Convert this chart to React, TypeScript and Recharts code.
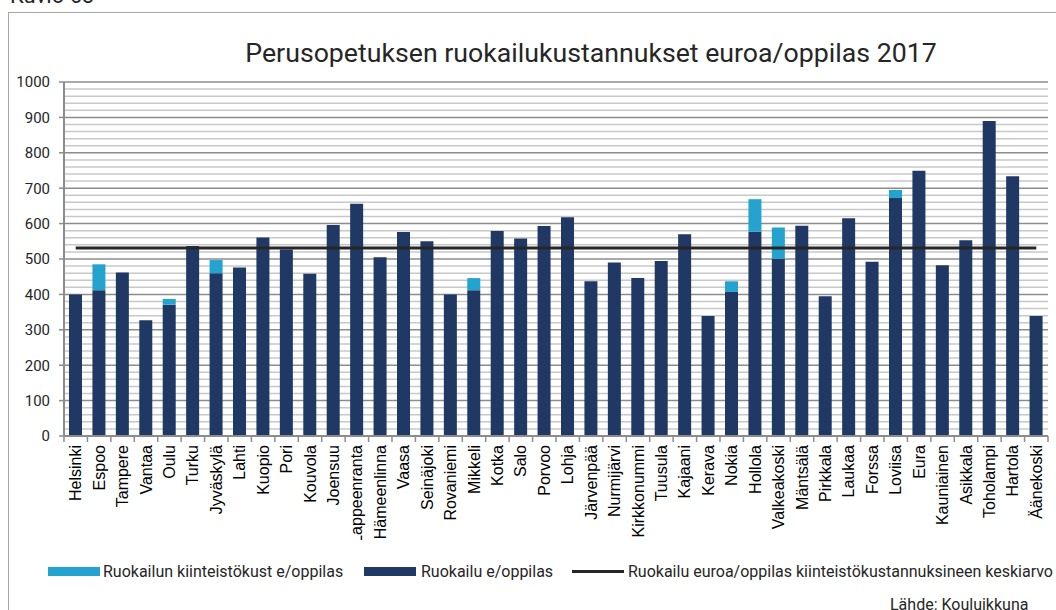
import React from "react";
import {
	ComposedChart,
	Bar,
	Line,
	XAxis,
	YAxis,
	CartesianGrid,
} from "recharts";

const cities = [
	"Helsinki", "Espoo", "Tampere", "Vantaa", "Oulu", "Turku", "Jyväskylä", "Lahti",
	"Kuopio", "Pori", "Kouvola", "Joensuu", "Lappeenranta", "Hämeenlinna", "Vaasa",
	"Seinäjoki", "Rovaniemi", "Mikkeli", "Kotka", "Salo", "Porvoo", "Lohja",
	"Järvenpää", "Nurmijärvi", "Kirkkonummi", "Tuusula", "Kajaani", "Kerava", "Nokia",
	"Hollola", "Valkeakoski", "Mäntsälä", "Pirkkala", "Laukaa", "Forssa", "Loviisa",
	"Eura", "Kauniainen", "Asikkala", "Toholampi", "Hartola", "Äänekoski",
];

// Ruokailu e/oppilas
const ruokailu = [
	400, 412, 462, 327, 371, 537, 460, 476,
	561, 527, 458, 596, 656, 505, 576,
	550, 400, 412, 579, 558, 593, 618,
	437, 490, 446, 494, 570, 339, 407,
	577, 501, 594, 395, 615, 492, 672,
	749, 482, 553, 890, 734, 339,
];

// Ruokailun kiinteistökust e/oppilas
const kiinteisto = [
	0, 73, 0, 0, 16, 0, 37, 0,
	0, 0, 0, 0, 0, 0, 0,
	0, 0, 34, 0, 0, 0, 0,
	0, 0, 0, 0, 0, 0, 30,
	92, 88, 0, 0, 0, 0, 23,
	0, 0, 0, 0, 0, 0,
];

const keskiarvo = 531;

const yTicks = [0, 100, 200, 300, 400, 500, 600, 700, 800, 900, 1000];
const minorLines = [
	20, 40, 60, 80, 120, 140, 160, 180, 220, 240, 260, 280, 320, 340, 360, 380,
	420, 440, 460, 480, 520, 540, 560, 580, 620, 640, 660, 680, 720, 740, 760, 780,
	820, 840, 860, 880, 920, 940, 960, 980,
];

const DARK = "#1f3864";
const LIGHT = "#24a3cf";
const TEXT = "#262626";

// chart layout
const CHART_W = 1056;
const CHART_H = 540;
const M_RIGHT = 8;
const Y_W = 64;
const BAND = (CHART_W - M_RIGHT - Y_W) / cities.length;

const data = cities.map((c, i) => ({
	city: c,
	ruokailu: ruokailu[i],
	kiint: kiinteisto[i],
	avg: keskiarvo,
}));

const CityTick = (props: any) => {
	const { x, y, payload, index } = props;
	const axisY = y - 8;
	return (
		<g>
			<line x1={x - BAND / 2} x2={x - BAND / 2} y1={axisY} y2={axisY + 6} stroke="#8c8c8c" strokeWidth={1.5} />
			{index === cities.length - 1 && (
				<line x1={x + BAND / 2} x2={x + BAND / 2} y1={axisY} y2={axisY + 6} stroke="#8c8c8c" strokeWidth={1.5} />
			)}
			<text
				x={x}
				y={y + 1}
				transform={`rotate(-90 ${x} ${y + 1})`}
				textAnchor="end"
				dominantBaseline="central"
				fontFamily="'Liberation Sans', Arial, sans-serif"
				fontSize={16}
				fill="#000"
			>
				{payload.value}
			</text>
		</g>
	);
};

const legendText: React.CSSProperties = {
	position: "absolute",
	top: 562,
	fontSize: 16,
	lineHeight: "19px",
	whiteSpace: "nowrap",
};

export default function App() {
	return (
		<div
			style={{
				position: "absolute",
				left: 0,
				top: 0,
				width: 1056,
				height: 610,
				overflow: "hidden",
				background: "#fff",
				fontFamily: "Roboto, sans-serif",
				color: TEXT,
			}}
		>
			<div style={{ position: "absolute", left: 10, top: -17, fontSize: 22, whiteSpace: "nowrap" }}>
				Kuvio 63
			</div>
			<div
				style={{
					position: "absolute",
					left: 8,
					top: 12,
					width: 1060,
					height: 620,
					border: "1px solid #a6a6a6",
					boxSizing: "border-box",
				}}
			/>
			<div
				style={{
					position: "absolute",
					left: 591,
					top: 40,
					transform: "translateX(-50%)",
					fontSize: 26.7,
					lineHeight: "27px",
					whiteSpace: "nowrap",
				}}
			>
				Perusopetuksen ruokailukustannukset euroa/oppilas 2017
			</div>

			<div style={{ position: "absolute", left: 0, top: 0 }}>
				<ComposedChart
					width={CHART_W}
					height={CHART_H}
					data={data}
					margin={{ top: 82, right: M_RIGHT, left: 0, bottom: 0 }}
					barCategoryGap={0}
				>
					<CartesianGrid vertical={false} horizontalValues={minorLines} stroke="#c8c8c8" strokeWidth={1.5} />
					<CartesianGrid vertical={false} horizontalValues={yTicks} stroke="#8c8c8c" strokeWidth={1.5} />
					<XAxis
						dataKey="city"
						interval={0}
						height={104}
						tickLine={false}
						axisLine={{ stroke: "#8c8c8c", strokeWidth: 2 }}
						tick={<CityTick />}
					/>
					<YAxis
						width={Y_W}
						domain={[0, 1000]}
						ticks={yTicks}
						interval={0}
						tickSize={5}
						tickMargin={9}
						axisLine={{ stroke: "#8c8c8c", strokeWidth: 2 }}
						tickLine={{ stroke: "#8c8c8c", strokeWidth: 1.5 }}
						tick={{ fontSize: 15, fill: TEXT, fontFamily: "Roboto" }}
					/>
					<Bar dataKey="ruokailu" stackId="a" fill={DARK} barSize={13} isAnimationActive={false} />
					<Bar dataKey="kiint" stackId="a" fill={LIGHT} barSize={13} isAnimationActive={false} />
					<Line
						dataKey="avg"
						type="linear"
						stroke={TEXT}
						strokeWidth={3}
						dot={false}
						activeDot={false}
						isAnimationActive={false}
					/>
				</ComposedChart>
			</div>

			{/* legend */}
			<div style={{ position: "absolute", left: 48, top: 567, width: 52, height: 9, background: LIGHT }} />
			<div style={{ ...legendText, left: 103 }}>Ruokailun kiinteistökust e/oppilas</div>
			<div style={{ position: "absolute", left: 364, top: 567, width: 52, height: 9, background: DARK }} />
			<div style={{ ...legendText, left: 421 }}>Ruokailu e/oppilas</div>
			<div style={{ position: "absolute", left: 572, top: 570, width: 52, height: 3, background: TEXT }} />
			<div style={{ ...legendText, left: 628 }}>Ruokailu euroa/oppilas kiinteistökustannuksineen keskiarvo</div>

			<div style={{ position: "absolute", left: 890, top: 595, fontSize: 16, whiteSpace: "nowrap" }}>
				Lähde: Kouluikkuna
			</div>
		</div>
	);
}
